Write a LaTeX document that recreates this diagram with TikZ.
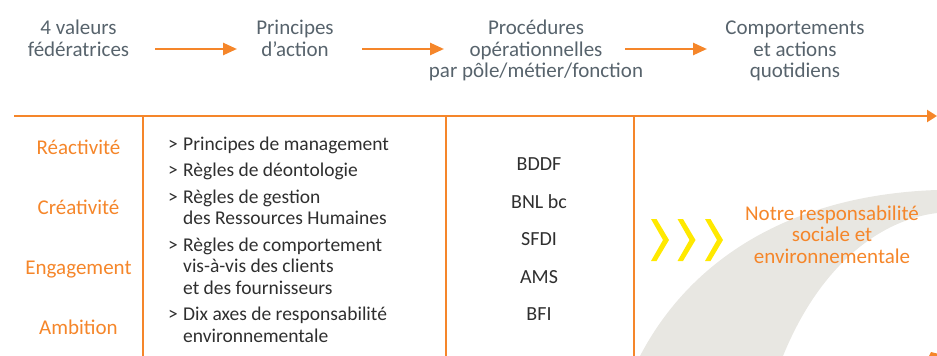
\documentclass[tikz,border=0pt]{standalone}
\usepackage{fontspec}
\setmainfont{Carlito}
\usetikzlibrary{arrows.meta,positioning}

\definecolor{bnporange}{HTML}{F5862A}
\definecolor{headgray}{HTML}{57636C}
\definecolor{listgray}{HTML}{2F2F2F}
\definecolor{chevyellow}{HTML}{FFE900}
\definecolor{bandgray}{HTML}{E8E7E2}

\newcommand{\bullgt}{\makebox[15pt][l]{>}}
\newcommand{\bullpad}{\hspace*{15pt}}

\tikzset{
  head/.style={align=center, text=headgray, font=\fontsize{21}{21.5}\selectfont, inner sep=0pt, anchor=base},
  value/.style={text=bnporange, font=\fontsize{21}{21.5}\selectfont, inner sep=0pt, text height=15pt, text depth=4pt},
  entity/.style={text=listgray, font=\fontsize{20}{21.5}\selectfont, inner sep=0pt, text height=15pt, text depth=4pt},
  rule/.style={draw=bnporange, line width=2pt},
  flow/.style={bnporange, line width=2.6pt, -{Triangle[length=14pt,width=12pt]}},
  chevron/.style={fill=chevyellow},
}

\begin{document}
\begin{tikzpicture}[x=1pt,y=-1pt]
    \useasboundingbox (0,0) rectangle (937,356);

    % Background band
    \fill [bandgray] (640,356) .. controls (690,260) and (790,195) .. (937,190)
        -- (937,213) .. controls (880,220) and (820,265) .. (783,356) -- cycle;

    % Header (base = last line)
    \node [head] (valeurs) at (78.5,56) {4 valeurs\\fédératrices};
    \node [head] (principes) at (295,56) {Principes\\d’action};
    \node [head] (procedures) at (536,77.5) {Procédures\\opérationnelles\\par pôle/métier/fonction};
    \node [head] (comportements) at (795,77.5) {Comportements\\et actions\\quotidiens};
    \coordinate (row) at (0,49);

    % Header arrows
    \draw [flow, shorten <=76.5pt, shorten >=58pt] (valeurs.center |- row) -- (principes.center |- row);
    \draw [flow, shorten <=67pt, shorten >=92pt] (principes.center |- row) -- (procedures.center |- row);
    \draw [flow, shorten <=89pt, shorten >=88pt] (procedures.center |- row) -- (comportements.center |- row);

    % Table rules
    \coordinate (axis start) at (14,116);
    \coordinate (axis end) at (937,116);
    \draw [bnporange, line width=2.3pt, -{Triangle[length=10pt,width=12pt]}] (axis start) -- (axis end);
    \coordinate (col1 top) at (143,116);
    \coordinate (col1 bottom) at (143,356);
    \coordinate (col2 top) at (446,116);
    \coordinate (col2 bottom) at (446,356);
    \coordinate (col3 top) at (634,116);
    \coordinate (col3 bottom) at (634,356);
    \draw [rule] (col1 top) -- (col1 bottom);
    \draw [rule] (col2 top) -- (col2 bottom);
    \draw [rule] (col3 top) -- (col3 bottom);

    % Values
    \node [value] (reactivite) at (78.5,148.5) {Réactivité};
    \node [value, below of=reactivite, node distance=60pt] (creativite) {Créativité};
    \node [value, below of=creativite, node distance=60pt] (engagement) {Engagement};
    \node [value, below of=engagement, node distance=60pt] (ambition) {Ambition};

    % Principles
    \node [align=left, anchor=base west, inner sep=0pt, text=listgray,
           font=\fontsize{19.5}{21.5}\selectfont] (regles) at (168,342)
        {\bullgt Principes de management\\[5pt]
         \bullgt Règles de déontologie\\[5pt]
         \bullgt Règles de gestion\\
         \bullpad des Ressources Humaines\\[5pt]
         \bullgt Règles de comportement\\
         \bullpad vis-à-vis des clients\\
         \bullpad et des fournisseurs\\[5pt]
         \bullgt Dix axes de responsabilité\\
         \bullpad environnementale};

    % Entities
    \node [entity] (bddf) at (539,165.2) {BDDF};
    \node [entity, below of=bddf, node distance=37.5pt] (bnl) {BNL bc};
    \node [entity, below of=bnl, node distance=37.5pt] (sfdi) {SFDI};
    \node [entity, below of=sfdi, node distance=37.5pt] (ams) {AMS};
    \node [entity, below of=ams, node distance=37.5pt] (bfi) {BFI};

    % Chevrons
    \fill [chevron] (651,219) -- (656.5,219) -- (669,240) -- (656.5,261) -- (651,261) -- (663,240) -- cycle;
    \fill [chevron] (677.5,219) -- (683,219) -- (695.5,240) -- (683,261) -- (677.5,261) -- (689.5,240) -- cycle;
    \fill [chevron] (705,219) -- (710.5,219) -- (723,240) -- (710.5,261) -- (705,261) -- (717,240) -- cycle;

    % Outcome
    \node [head, text=bnporange] (rse) at (832,263) {Notre responsabilité\\sociale et\\environnementale};

    \fill [bnporange] (929,356) -- (931,352) -- (937,353.5) -- (937,356) -- cycle;
\end{tikzpicture}
\end{document}
